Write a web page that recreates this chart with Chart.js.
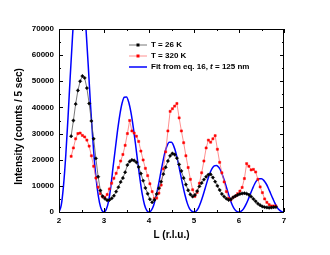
<!DOCTYPE html>
<html>
<head>
<meta charset="utf-8">
<script src="https://cdn.jsdelivr.net/npm/chart.js@4.4.1/dist/chart.umd.min.js"></script>
<style>
  html, body { margin: 0; padding: 0; background: #fff; }
  #wrap { width: 330px; height: 255px; }
</style>
</head>
<body>
<div id="wrap"><canvas id="c" width="330" height="255"></canvas></div>
<script>
// measured L values (r.l.u.)
const L = [
  2.27, 2.32, 2.37, 2.42, 2.47, 2.52, 2.57, 2.62, 2.67, 2.72, 2.77, 2.82, 2.87, 2.92, 2.97,
  3.02, 3.07, 3.12, 3.17, 3.22, 3.27, 3.32, 3.37, 3.42, 3.47, 3.52, 3.57, 3.62, 3.67, 3.72, 3.77, 3.82, 3.87, 3.92, 3.97,
  4.02, 4.07, 4.12, 4.17, 4.22, 4.27, 4.32, 4.37, 4.42, 4.47, 4.52, 4.57, 4.62, 4.67, 4.72, 4.77, 4.82, 4.87, 4.92, 4.97,
  5.02, 5.07, 5.12, 5.17, 5.22, 5.27, 5.32, 5.37, 5.42, 5.47, 5.52, 5.57, 5.62, 5.67, 5.72, 5.77, 5.82, 5.87, 5.92, 5.97,
  6.02, 6.07, 6.12, 6.17, 6.22, 6.27, 6.32, 6.37, 6.42, 6.47, 6.52, 6.57, 6.62, 6.67, 6.72, 6.77, 6.82
];
const T26 = [
  29000, 35000, 41300, 46500, 50000, 52000, 51300, 47400, 41500, 34800, 28000, 20500, 13500, 8200, 6000,
  5100, 4500, 4600, 5200, 6200, 7800, 9500, 11500, 13000, 15200, 18000, 19300, 19900, 19700, 19000, 17200, 14700, 12000, 9200, 7000,
  4900, 3700, 4600, 6900, 9100, 11600, 14500, 17100, 19500, 21500, 22400, 22000, 20600, 18200, 15700, 13000, 10500, 8300, 6700, 5900,
  6500, 8000, 9800, 11100, 12400, 13500, 14300, 14400, 13200, 11600, 10000, 8400, 6900, 5900, 5100, 4600, 4850, 5600, 6100, 6500,
  6900, 7100, 7150, 7000, 6600, 5900, 5000, 4100, 3200, 2600, 2100, 1850, 1750, 1650, 1700, 1800, 1900
];
const T320 = [
  21300, 24500, 28000, 30000, 30200, 29300, 28700, 27500, 25200, 21500, 17500, 13000, 9500, 7000, 5800,
  5600, 6700, 8800, 11000, 12900, 14800, 17000, 19500, 22000, 25500, 30000, 35000, 31000, 30200, 29000, 27000, 23300, 19900, 16700, 13900,
  10800, 7800, 5200, 5300, 7200, 10300, 16500, 23000, 31000, 38500, 39500, 40500, 41500, 36000, 31000, 26500, 21500, 17000, 12500, 8500,
  6000, 7500, 11000, 15000, 19500, 24500, 27500, 26700, 28000, 29200, 24000, 19000, 15000, 11500, 7800, 5200, 4600, 5600, 6100, 7000,
  8000, 9400, 12800, 18500, 17500, 16100, 16300, 15300, 12500, 9600, 7400, 5000, 3700, 2800, 2300, 2300, 2300
];
// fit curve
const LFit = [
  2.00, 2.05, 2.10, 2.15, 2.20, 2.25, 2.30, 2.35, 2.40, 2.45, 2.50, 2.55, 2.60, 2.65, 2.70, 2.75, 2.80, 2.85, 2.90, 2.95,
  3.00, 3.05, 3.10, 3.15, 3.20, 3.25, 3.30, 3.35, 3.40, 3.45, 3.50, 3.55, 3.60, 3.65, 3.70, 3.75, 3.80, 3.85, 3.90, 3.95,
  4.00, 4.05, 4.10, 4.15, 4.20, 4.25, 4.30, 4.35, 4.40, 4.45, 4.50, 4.55, 4.60, 4.65, 4.70, 4.75, 4.80, 4.85, 4.90, 4.95,
  5.00, 5.05, 5.10, 5.15, 5.20, 5.25, 5.30, 5.35, 5.40, 5.45, 5.50, 5.55, 5.60, 5.65, 5.70, 5.75, 5.80, 5.85, 5.90, 5.95,
  6.00, 6.05, 6.10, 6.15, 6.20, 6.25, 6.30, 6.35, 6.40, 6.45, 6.50, 6.55, 6.60, 6.65, 6.70, 6.75, 6.80, 6.85, 6.90, 6.95, 7.00
];
const FIT = [
  0, 2600, 10000, 21500, 36000, 52000, 67000, 80000, 88000, 91000, 89000, 82000, 70000, 56000, 41000, 28000, 17000, 9000, 3600, 700,
  0, 1000, 4000, 9500, 17000, 24000, 31000, 37000, 41500, 43900, 44000, 42000, 38000, 32500, 26000, 19000, 12500, 6800, 2800, 600,
  0, 600, 2400, 5500, 9500, 14000, 18500, 22500, 25300, 26700, 26700, 25200, 22500, 18700, 14500, 10300, 6500, 3400, 1300, 300,
  0, 400, 1600, 3700, 6300, 9200, 12100, 14700, 16600, 17600, 17800, 17100, 15600, 13300, 10600, 7800, 5000, 2700, 1100, 250,
  0, 300, 1200, 2700, 4600, 6800, 8900, 10800, 12100, 12700, 12700, 12100, 10900, 9200, 7200, 5200, 3300, 1700, 700, 150, 0
];
const seriesNames = ['T = 26 K', 'T = 320 K', 'Fit from eq. 16, t = 125 nm'];
const X_MIN = 2, X_MAX = 7, Y_MIN = 0, Y_MAX = 70000;

const FONT = "'Liberation Sans', Arial, sans-serif";
Chart.defaults.font.family = FONT;
Chart.defaults.color = '#000';

const pts = (xs, ys) => xs.map((v, i) => ({ x: v, y: ys[i] }));

// frame, inward ticks, legend and y title
const decor = {
  id: 'decor',
  afterDatasetsDraw(chart) {
    const { ctx, chartArea: a, scales: { x, y } } = chart;
    ctx.save();
    ctx.strokeStyle = '#000';
    ctx.lineWidth = 1;
    ctx.strokeRect(a.left + 0.5, a.top + 0.5, a.right - a.left - 1, a.bottom - a.top);
    ctx.beginPath();
    for (let v = X_MIN; v <= X_MAX + 1e-9; v += 0.5) {
      const px = Math.round(x.getPixelForValue(v)) + 0.5;
      const len = Math.abs(v - Math.round(v)) < 1e-6 ? 4 : 2;
      ctx.moveTo(px, a.bottom); ctx.lineTo(px, a.bottom - len);
      ctx.moveTo(px, a.top); ctx.lineTo(px, a.top + len);
    }
    for (let v = Y_MIN; v <= Y_MAX; v += 5000) {
      const py = Math.round(y.getPixelForValue(v)) + 0.5;
      const len = v % 10000 === 0 ? 4 : 2;
      ctx.moveTo(a.left, py); ctx.lineTo(a.left + len, py);
      ctx.moveTo(a.right, py); ctx.lineTo(a.right - len, py);
    }
    ctx.stroke();

    // legend
    const lx = 129, tx = 151;
    const rows = [45, 56, 67];
    ctx.textBaseline = 'middle';
    ctx.font = 'bold 8px ' + FONT;
    chart.data.datasets.forEach((ds, i) => {
      const ry = rows[i];
      ctx.strokeStyle = ds.borderColor;
      ctx.lineWidth = ds.borderWidth;
      ctx.beginPath(); ctx.moveTo(lx, ry); ctx.lineTo(lx + 18, ry); ctx.stroke();
      if (ds.pointRadius > 0) {
        ctx.fillStyle = ds.pointBackgroundColor;
        ctx.fillRect(lx + 9 - 1.5, ry - 1.5, 3, 3);
      }
      ctx.fillStyle = '#000';
      if (i === 2) {
        const parts = ['Fit from eq. 16, ', 't', ' = 125 nm'];
        let cx = tx;
        parts.forEach((p, k) => {
          ctx.font = (k === 1 ? 'italic bold 8px ' : 'bold 8px ') + FONT;
          ctx.fillText(p, cx, ry);
          cx += ctx.measureText(p).width;
        });
        ctx.font = 'bold 8px ' + FONT;
      } else {
        ctx.fillText(seriesNames[i], tx, ry);
      }
    });

    // y axis title
    ctx.save();
    ctx.translate(19, 126.5);
    ctx.rotate(-Math.PI / 2);
    ctx.font = 'bold 10px ' + FONT;
    ctx.textAlign = 'center';
    ctx.fillText('Intensity (counts / 5 sec)', 0, 0);
    ctx.restore();
    ctx.restore();
  }
};

new Chart(document.getElementById('c'), {
  type: 'line',
  data: {
    datasets: [
      {
        label: seriesNames[0],
        data: pts(L, T26),
        borderColor: '#555555',
        borderWidth: 0.8,
        pointStyle: 'rectRot',
        pointRadius: 1.7,
        pointBackgroundColor: '#000000',
        pointBorderColor: '#000000',
        pointBorderWidth: 0.5
      },
      {
        label: seriesNames[1],
        data: pts(L, T320),
        borderColor: '#ff7373',
        borderWidth: 0.8,
        pointStyle: 'rect',
        pointRadius: 1.5,
        pointBackgroundColor: '#ff0000',
        pointBorderColor: '#ff0000',
        pointBorderWidth: 0.5
      },
      {
        label: seriesNames[2],
        data: pts(LFit, FIT),
        borderColor: '#0000ff',
        borderWidth: 1.5,
        pointRadius: 0,
        cubicInterpolationMode: 'monotone'
      }
    ]
  },
  options: {
    responsive: false,
    animation: false,
    devicePixelRatio: 1,
    layout: { padding: { left: 0, top: 29, right: 46, bottom: 0 } },
    plugins: { legend: { display: false }, tooltip: { enabled: false } },
    scales: {
      x: {
        type: 'linear',
        min: X_MIN,
        max: X_MAX,
        grid: { display: false, drawTicks: false },
        border: { display: false },
        ticks: { stepSize: 1, padding: 4, maxRotation: 0, font: { size: 8, weight: 'bold' } },
        title: { display: true, text: 'L (r.l.u.)', padding: { top: 0, bottom: 14 }, font: { size: 10, weight: 'bold' } },
        afterFit: (s) => { s.height = 43; }
      },
      y: {
        type: 'linear',
        min: Y_MIN,
        max: Y_MAX,
        grid: { display: false, drawTicks: false },
        border: { display: false },
        ticks: { stepSize: 10000, padding: 5, font: { size: 8, weight: 'bold' }, callback: (v) => String(v) },
        afterFit: (s) => { s.width = 59; }
      }
    }
  },
  plugins: [decor]
});
</script>
</body>
</html>
